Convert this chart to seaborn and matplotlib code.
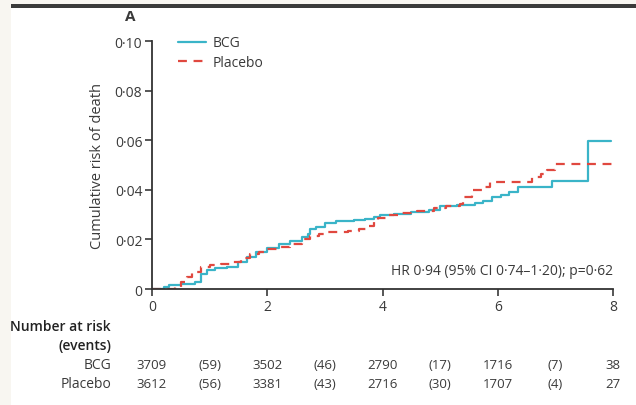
import matplotlib
matplotlib.use("Agg")
import matplotlib.pyplot as plt
import matplotlib.transforms as mtransforms
from matplotlib.patches import Rectangle
import seaborn as sns
import pandas as pd

# ---- data ----
bcg_t = [0, 0.2, 0.3, 0.5, 0.75, 0.85, 0.95, 1.1, 1.3, 1.5, 1.65, 1.8, 2.0, 2.2, 2.4, 2.6,
         2.7, 2.75, 2.85, 3.0, 3.2, 3.5, 3.7, 3.85, 3.95, 4.2, 4.5, 4.8, 5.0, 5.3, 5.6, 5.75,
         5.9, 6.05, 6.2, 6.35, 6.95, 7.57, 7.97]
bcg_y = [0, 0.001, 0.0015, 0.002, 0.003, 0.006, 0.0075, 0.0083, 0.009, 0.011, 0.013, 0.015,
         0.0165, 0.018, 0.0195, 0.021, 0.022, 0.024, 0.025, 0.0265, 0.0275, 0.0278, 0.0282,
         0.029, 0.0298, 0.0303, 0.031, 0.032, 0.0333, 0.0338, 0.0345, 0.0355, 0.037, 0.0378,
         0.039, 0.041, 0.0436, 0.0597, 0.0597]
pla_t = [0, 0.4, 0.5, 0.6, 0.7, 0.85, 1.0, 1.2, 1.4, 1.55, 1.7, 1.85, 2.0, 2.2, 2.4, 2.6,
         2.75, 2.9, 3.05, 3.4, 3.6, 3.75, 3.85, 3.92, 4.1, 4.3, 4.6, 4.9, 5.1, 5.35, 5.4, 5.55,
         5.75, 5.87, 6.6, 6.75, 6.85, 7.0, 8.0]
pla_y = [0, 0.001, 0.003, 0.005, 0.007, 0.009, 0.0098, 0.0102, 0.011, 0.0125, 0.014, 0.015,
         0.016, 0.017, 0.018, 0.02, 0.0215, 0.0222, 0.0228, 0.0232, 0.024, 0.0255, 0.027,
         0.0285, 0.0298, 0.0305, 0.0315, 0.0325, 0.0335, 0.0343, 0.037, 0.0398, 0.041, 0.0432,
         0.045, 0.0465, 0.0478, 0.0504, 0.0504]

risk_times = [0, 2, 4, 6, 8]
event_times = [1, 3, 5, 7]
bcg_risk = ["3709", "3502", "2790", "1716", "38"]
bcg_events = ["(59)", "(46)", "(17)", "(7)"]
pla_risk = ["3612", "3381", "2716", "1707", "27"]
pla_events = ["(56)", "(43)", "(30)", "(4)"]

y_ticks = [0, 0.02, 0.04, 0.06, 0.08, 0.10]
y_tick_labels = ["0", "0·02", "0·04", "0·06", "0·08", "0·10"]
x_ticks = [0, 2, 4, 6, 8]

BCG_COLOR = "#3ab4c8"
PLA_COLOR = "#e0483f"
TXT = "#3a3a3a"
FS = 10

sns.set_theme(style="ticks")
plt.rcParams["font.family"] = ["Open Sans", "DejaVu Sans"]

fig = plt.figure(figsize=(6.36, 4.06), dpi=100)
fig.patch.set_facecolor("white")
# page frame
fig.patches.append(Rectangle((0, 0), 11/636, 1, transform=fig.transFigure,
                             facecolor="#f8f6f1", edgecolor="none", zorder=0))
fig.patches.append(Rectangle((0, 1 - 5/406), 1, 5/406, transform=fig.transFigure,
                             facecolor="#f8f6f1", edgecolor="none", zorder=0))
fig.patches.append(Rectangle((11/636, 1 - 9/406), 1, 4/406, transform=fig.transFigure,
                             facecolor="#3b3b3b", edgecolor="none", zorder=1))

ax = fig.add_axes([152/636, 1 - 290/406, (613 - 152)/636, (290 - 42)/406])
ax.set_facecolor("white")

df_b = pd.DataFrame({"t": bcg_t, "y": bcg_y})
df_p = pd.DataFrame({"t": pla_t, "y": pla_y})
sns.lineplot(data=df_b, x="t", y="y", ax=ax, color=BCG_COLOR, lw=1.6,
             drawstyle="steps-post", estimator=None, label="BCG")
sns.lineplot(data=df_p, x="t", y="y", ax=ax, color=PLA_COLOR, lw=1.6,
             drawstyle="steps-post", estimator=None, label="Placebo",
             dashes=False, linestyle=(0, (4, 3)))

ax.set_xlim(0, 8)
ax.set_ylim(0, 0.10)
ax.set_xticks(x_ticks)
ax.set_xticklabels([str(v) for v in x_ticks])
ax.set_yticks(y_ticks)
ax.set_yticklabels(y_tick_labels)
ax.set_xlabel("")
ax.set_ylabel("Cumulative risk of death", fontsize=10.5, color=TXT, labelpad=7)
ax.tick_params(axis="both", labelsize=FS, colors=TXT, length=5, width=1.2, pad=2)
for s in ["top", "right"]:
    ax.spines[s].set_visible(False)
for s in ["left", "bottom"]:
    ax.spines[s].set_color("#333333")
    ax.spines[s].set_linewidth(1.3)

leg = ax.legend(loc="upper left", bbox_to_anchor=(0.045, 1.045), frameon=False,
                fontsize=FS, handlelength=2.0, handletextpad=0.5, labelspacing=0.35,
                borderaxespad=0)
for t in leg.get_texts():
    t.set_color(TXT)

ax.text(1.0, 0.075, "HR 0·94 (95% CI 0·74–1·20); p=0·62", transform=ax.transAxes,
        ha="right", va="center", fontsize=FS, color=TXT)

fig.text(130/636, 1 - 17/406, "A", fontsize=11, fontweight="bold", color=TXT,
         ha="center", va="center")

# number at risk table
lab_x = 111/636
rows = [(327, "Number at risk"), (346, "(events)")]
for ypx, txt in rows:
    fig.text(lab_x, 1 - ypx/406, txt, ha="right", va="center", fontsize=FS,
             fontweight="semibold", color="#222222")
trans = mtransforms.blended_transform_factory(ax.transData, fig.transFigure)
for ypx, name, risk, ev in [(366, "BCG", bcg_risk, bcg_events),
                            (385, "Placebo", pla_risk, pla_events)]:
    fig.text(lab_x, 1 - ypx/406, name, ha="right", va="center", fontsize=FS, color=TXT)
    for xv, s in zip(risk_times, risk):
        ax.text(xv, 1 - ypx/406, s, transform=trans, ha="center", va="center",
                fontsize=9.5, color=TXT, clip_on=False)
    for xv, s in zip(event_times, ev):
        ax.text(xv, 1 - ypx/406, s, transform=trans, ha="center", va="center",
                fontsize=9.5, color=TXT, clip_on=False)

fig.savefig("out.png", dpi=100, facecolor=fig.get_facecolor())
